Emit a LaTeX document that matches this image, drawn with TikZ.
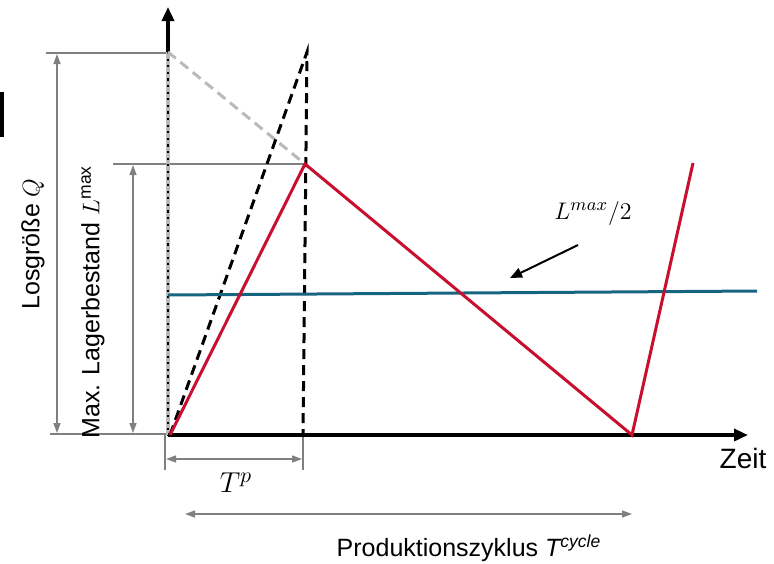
\documentclass[tikz,border=0pt]{standalone}
\usepackage{fontspec}
\setmainfont{Liberation Sans}
\usetikzlibrary{arrows.meta}
\definecolor{stockred}{RGB}{200,16,46}
\definecolor{meanblue}{RGB}{22,100,128}
\definecolor{dimgray}{RGB}{128,128,128}
\definecolor{lightgray}{RGB}{185,185,185}

\begin{document}
\begin{tikzpicture}[x=0.5pt, y=-0.5pt,
  axis/.style={line width=1.7pt, -{Triangle[length=7pt,width=6pt]}},
  dim/.style={draw=dimgray, line width=0.7pt},
  dimarr/.style={dim, {Triangle[length=5pt,width=3.5pt]}-{Triangle[length=5pt,width=3.5pt]}},
  stock/.style={draw=stockred, line width=1.5pt, line join=miter},
  prod/.style={draw=black, line width=1.5pt, dash pattern=on 5pt off 3pt},
  lbl/.style={font=\fontsize{12.5}{15}\selectfont, inner sep=0pt},
  pointer/.style={line width=1pt, -{Triangle[length=6pt,width=5pt]}}]
\useasboundingbox (0,0) rectangle (774,563);
% points of the stock curve
\coordinate (O) at (168,435);
\coordinate (ytop) at (168,7);
\coordinate (xend) at (748,435);
\coordinate (Qtop) at (168,52);
\coordinate (peak) at (305,164);
\coordinate (prodpeak) at (307,52);
\coordinate (tp) at (303,435);
\coordinate (start) at (170,435);
\coordinate (low) at (632,435);
\coordinate (rise) at (693,163);
\coordinate (meanL) at (168,295);
\coordinate (meanR) at (757,291);
% dimension lines
\draw[dim] (46,53) -- (Qtop |- 0,53);
\draw[dim] (50,434) -- (O |- 0,434);
\draw[dim] (113,164) -- (peak);
\draw[dimarr] (57,54) -- (57,433);
\draw[dimarr] (133,165) -- (133,433);
\draw[dim] (165,435) -- (165,470);
\draw[dim] (303,437) -- (303,470);
\draw[dimarr] (166,459) -- (302,459);
\draw[dimarr] (185,514) -- (632,514);
% axes
\draw[draw=lightgray, line width=2.3pt] (Qtop) -- (O);
\draw[line width=1.1pt, dash pattern=on 1.1pt off 2.2pt] (Qtop) -- (O);
\draw[axis] (Qtop) -- (ytop);
\draw[axis] (O) -- (xend);
\fill (0,92) rectangle (4,137);
% production and stock
\draw[draw=lightgray, line width=1.5pt, dash pattern=on 5pt off 3pt] (Qtop) -- (peak);
\draw[prod] (start) -- (prodpeak) -- (tp);
\draw[draw=meanblue, line width=1.5pt] (meanL) -- (meanR);
\draw[stock] (start) -- (peak) -- (low) -- (rise);
\draw[pointer] (578,245) -- (510,278);
% labels
\node[lbl, rotate=90] (Qlab) at (33,244) {Losgröße $Q$};
\node[lbl, rotate=90] (Llab) at (93,302) {Max. Lagerbestand $L$\textsuperscript{max}};
\node[lbl, font=\fontsize{14}{16}\selectfont] (zeit) at (743,458) {Zeit};
\node[lbl, font=\fontsize{15}{17}\selectfont] (tplab) at (236,483) {$T^p$};
\node[lbl, font=\fontsize{12.5}{14}\selectfont] (halfL) at (593,213) {$L^{max}/2$};
\node[lbl] (cycle) at (469,548) {Produktionszyklus \textit{T\textsuperscript{cycle}}};
\end{tikzpicture}
\end{document}
